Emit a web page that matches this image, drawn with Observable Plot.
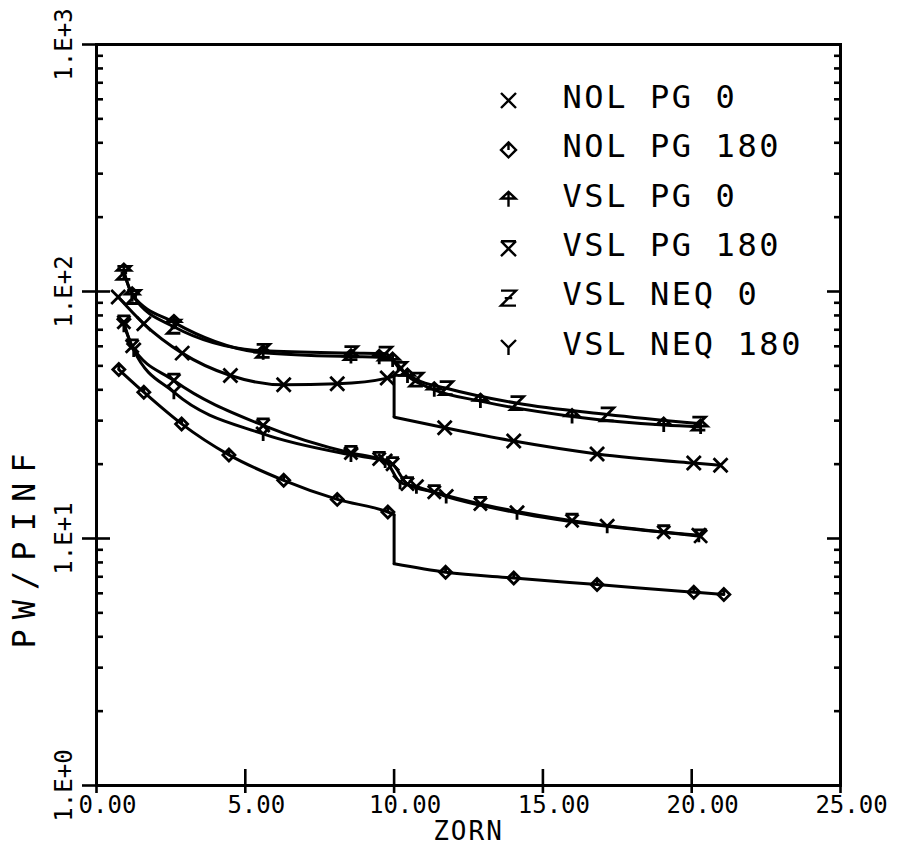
<!DOCTYPE html>
<html>
<head>
<meta charset="utf-8">
<script src="https://cdn.jsdelivr.net/npm/d3@7"></script>
<script src="https://cdn.jsdelivr.net/npm/@observablehq/plot@0.6"></script>
<style>
  html, body { margin: 0; padding: 0; background: #fff; }
  svg { display: block; }
</style>
</head>
<body>
<div id="chart"></div>
<script>
// Wall pressure ratio along the body (PW/PINF vs ZORN)
const seriesNames = ["NOL PG 0", "NOL PG 180", "VSL PG 0", "VSL PG 180", "VSL NEQ 0", "VSL NEQ 180"];

// NOL, windward / leeward
const zornNolPg0   = [0.73, 1.59, 2.88, 4.50, 6.29, 8.09, 9.77, 11.70, 14.02, 16.82, 20.07, 20.97];
const pwNolPg0     = [95.0, 74.0, 56.3, 45.7, 41.9, 42.3, 44.6, 28.1, 24.8, 22.0, 20.2, 19.8];
const zornNolPg180 = [0.75, 1.59, 2.86, 4.45, 6.29, 8.09, 9.79, 11.73, 14.02, 16.82, 20.07, 21.08];
const pwNolPg180   = [48.3, 39.1, 29.1, 21.8, 17.2, 14.4, 12.8, 7.30, 6.92, 6.51, 6.06, 5.93];
// jump at the junction: [zorn, value before, value after]
const stepNolPg0   = [10.0, 45.5, 31.0];
const stepNolPg180 = [10.0, 12.5, 7.9];

// VSL, perfect gas
const zornVslPg   = [0.92, 1.20, 2.60, 5.60, 8.55, 9.50, 9.95, 10.45, 11.35, 12.90, 15.98, 19.06, 20.30];
const pwVslPg0    = [121, 97.0, 75.0, 56.5, 54.5, 54.2, 52.8, 45.5, 40.0, 36.0, 31.2, 28.8, 28.3];
const pwVslPg180  = [75.0, 60.0, 43.6, 28.7, 22.2, 21.0, 20.0, 16.6, 15.4, 13.8, 11.8, 10.6, 10.2];
// VSL, nonequilibrium
const zornVslNeq  = [0.92, 1.25, 2.60, 5.60, 8.55, 9.70, 10.20, 10.75, 11.75, 14.13, 17.16, 20.24];
const pwVslNeq0   = [119, 95.0, 72.0, 57.5, 56.3, 56.0, 48.6, 44.0, 40.6, 35.3, 31.8, 29.2];
const pwVslNeq180 = [73.0, 58.0, 39.1, 26.5, 21.8, 20.6, 16.9, 16.2, 14.8, 12.7, 11.2, 10.3];

// axis ticks and labels
const xTicks = [0, 5, 10, 15, 20, 25];
const xTickLabels = ["0.00", "5.00", "10.00", "15.00", "20.00", "25.00"];
const yDecades = [1, 10, 100, 1000];
const yDecadeLabels = ["1.E+0", "1.E+1", "1.E+2", "1.E+3"];
const yMinor = [0, 1, 2].flatMap(k => [2, 3, 4, 5, 6, 7, 8, 9].map(m => m * 10 ** k));

// plotter-style marker glyphs (size is the area; r is the half-width)
const rOf = s => Math.sqrt(s / Math.PI);
const symCross = { draw(c, s) { const r = rOf(s);
  c.moveTo(-r, -r); c.lineTo(r, r); c.moveTo(-r, r); c.lineTo(r, -r); } };
const symDiamond = { draw(c, s) { const r = rOf(s);
  c.moveTo(0, -r); c.lineTo(r, 0); c.lineTo(0, r); c.lineTo(-r, 0); c.closePath();
  c.moveTo(0, -r); c.lineTo(0, 0); } };
const symTriStem = { draw(c, s) { const r = rOf(s);
  c.moveTo(0, -r); c.lineTo(0.95 * r, -0.1 * r); c.lineTo(-0.95 * r, -0.1 * r); c.closePath();
  c.moveTo(0, -r); c.lineTo(0, r); } };
const symHourglass = { draw(c, s) { const r = rOf(s);
  c.moveTo(-r, -r); c.lineTo(r, -r);
  c.moveTo(-r, -r); c.lineTo(r, r); c.moveTo(r, -r); c.lineTo(-r, r); } };
const symZ = { draw(c, s) { const r = rOf(s);
  c.moveTo(-r, -r); c.lineTo(r, -r); c.lineTo(-r, r); c.lineTo(r, r);
  c.moveTo(-0.5 * r, 0); c.lineTo(0.5 * r, 0); } };
const symY = { draw(c, s) { const r = rOf(s);
  c.moveTo(-r, -r); c.lineTo(0, 0); c.lineTo(r, -r); c.moveTo(0, 0); c.lineTo(0, r); } };

const series = [
  { name: seriesNames[0], zorn: zornNolPg0,   pw: pwNolPg0,    step: stepNolPg0,   symbol: symCross,     r: 7 },
  { name: seriesNames[1], zorn: zornNolPg180, pw: pwNolPg180,  step: stepNolPg180, symbol: symDiamond,   r: 6 },
  { name: seriesNames[2], zorn: zornVslPg,    pw: pwVslPg0,    step: null,         symbol: symTriStem,   r: 7 },
  { name: seriesNames[3], zorn: zornVslPg,    pw: pwVslPg180,  step: null,         symbol: symHourglass, r: 6.5 },
  { name: seriesNames[4], zorn: zornVslNeq,   pw: pwVslNeq0,   step: null,         symbol: symZ,         r: 6.5 },
  { name: seriesNames[5], zorn: zornVslNeq,   pw: pwVslNeq180, step: null,         symbol: symY,         r: 7 }
];

// polyline vertices, split into segments around a jump
const lineRows = series.flatMap(s => {
  const pts = s.zorn.map((x, i) => ({ name: s.name, x, y: s.pw[i] }));
  if (!s.step) return pts.map(p => ({ ...p, seg: s.name + "-a" }));
  const [xs, yBefore, yAfter] = s.step;
  const a = pts.filter(p => p.x < xs).map(p => ({ ...p, seg: s.name + "-a" }));
  const b = pts.filter(p => p.x > xs).map(p => ({ ...p, seg: s.name + "-b" }));
  return [...a, { name: s.name, x: xs, y: yBefore, seg: s.name + "-a" },
          { name: s.name, x: xs, y: yAfter, seg: s.name + "-b" }, ...b];
});
const steps = series.filter(s => s.step).map(s => ({ x: s.step[0], y1: s.step[1], y2: s.step[2] }));

const FONT = "DejaVu Sans Mono, monospace";
const legendTop = 97, legendStep = 49.4, legendMarkX = 508, legendTextX = 562;
const mL = 96, mT = 44;

const legendMarks = series.flatMap((s, i) => [
  Plot.dot([s.name], { frameAnchor: "top-left", dx: legendMarkX - mL, dy: legendTop + i * legendStep + 3 - mT,
    symbol: s.symbol, r: 7.5, fill: "none", stroke: "black", strokeWidth: 2.4 }),
  Plot.text([s.name], { frameAnchor: "top-left", dx: legendTextX - mL, dy: legendTop + i * legendStep - mT,
    text: d => d, textAnchor: "start", lineAnchor: "middle", fontSize: 32, fill: "black" })
]);

const chart = Plot.plot({
  width: 903,
  height: 851,
  marginLeft: mL,
  marginRight: 63,
  marginTop: mT,
  marginBottom: 66,
  style: { background: "#fff", color: "#000", fontFamily: FONT, overflow: "visible" },
  x: { domain: [0, 25] },
  y: { type: "log", domain: [1, 1000] },
  marks: [
    Plot.frame({ stroke: "black", strokeWidth: 3 }),
    // left axis ticks
    Plot.axisY(yDecades, { anchor: "left", tickSize: 14, fill: "none", strokeWidth: 2.6 }),
    Plot.axisY(yDecades, { anchor: "left", tickSize: -14, fill: "none", strokeWidth: 2.6 }),
    Plot.axisY(yMinor, { anchor: "left", tickSize: -7, fill: "none", strokeWidth: 2.6 }),
    // right axis ticks
    Plot.axisY(yDecades, { anchor: "right", tickSize: -14, fill: "none", strokeWidth: 2.6 }),
    Plot.axisY(yMinor, { anchor: "right", tickSize: -7, fill: "none", strokeWidth: 2.6 }),
    // bottom axis ticks
    Plot.axisX(xTicks, { anchor: "bottom", tickSize: 8, fill: "none", strokeWidth: 2.6 }),
    Plot.axisX(xTicks, { anchor: "bottom", tickSize: -16, fill: "none", strokeWidth: 2.6 }),
    // tick labels
    Plot.text(xTicks, { x: d => d, y: 1, text: (d, i) => xTickLabels[i], lineAnchor: "top",
      textAnchor: "middle", dx: 11, dy: 10, fontSize: 24, fill: "black" }),
    Plot.text(yDecades, { x: 0, y: d => d, text: (d, i) => yDecadeLabels[i], rotate: -90,
      textAnchor: "middle", lineAnchor: "middle", dx: -32, fontSize: 24, fill: "black" }),
    // axis titles
    Plot.text(["ZORN"], { frameAnchor: "bottom", dy: 46, text: d => d, lineAnchor: "middle",
      fontSize: 26, fill: "black" }),
    Plot.text(["PW/PINF"], { frameAnchor: "left", dx: -72, dy: 131, rotate: -90, text: d => d,
      textAnchor: "middle", lineAnchor: "middle", fontSize: 32, fill: "black" }),
    // curves
    Plot.line(lineRows, { x: "x", y: "y", z: "seg", curve: "monotone-x", stroke: "black", strokeWidth: 3 }),
    Plot.link(steps, { x1: "x", x2: "x", y1: "y1", y2: "y2", stroke: "black", strokeWidth: 3 }),
    ...series.map(s => Plot.dot(s.zorn.map((x, i) => ({ x, y: s.pw[i] })), {
      x: "x", y: "y", symbol: s.symbol, r: s.r, fill: "none", stroke: "black", strokeWidth: 2.8 })),
    ...legendMarks
  ]
});

// wider character pitch of the plotter lettering
const spacing = { "PW/PINF": "10px", "ZORN": "2px" };
seriesNames.forEach(n => { spacing[n] = "2.6px"; });
d3.select(chart).selectAll("text").each(function () {
  const ls = spacing[this.textContent];
  if (ls) this.style.letterSpacing = ls;
});

document.getElementById("chart").appendChild(chart);
</script>
</body>
</html>
